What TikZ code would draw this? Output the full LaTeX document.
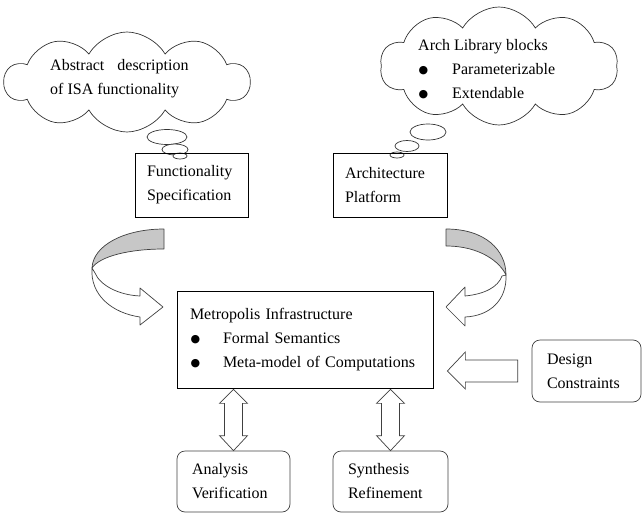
\documentclass[tikz,border=0pt]{standalone}
\usepackage{fontspec}
\setmainfont{Liberation Serif}
\newfontfamily\symfont{DejaVu Sans}
\usetikzlibrary{shapes.symbols,calc}
\newcommand\blt[1]{\makebox[#1][l]{\hspace{0.5pt}\raisebox{0.5pt}{\symfont\fontsize{11}{11}\selectfont ●}}}
\begin{document}
\begin{tikzpicture}[x=1pt,y=-1pt,font=\fontsize{16}{24}\selectfont,
  sqbox/.style={draw,line width=0.7pt,inner xsep=12pt,inner ysep=0pt,align=left},
  rbox/.style={draw=black!75,line width=0.7pt,rounded corners=8pt,inner xsep=15pt,inner ysep=0pt,align=left},
  cloudbox/.style={cloud,draw=black!80,line width=0.7pt,cloud puffs=10,cloud puff arc=120,cloud ignores aspect,inner sep=0pt},
  bubble/.style={draw=black!80,line width=0.7pt,fill=white},
  txt/.style={inner sep=0pt,align=left},
  ribbonback/.style={draw=black!75,line width=0.7pt,fill=black!22,line join=round},
  ribbonfront/.style={draw=black!75,line width=0.7pt,fill=white,line join=round},
  blockarrow/.style={draw=black!75,line width=0.7pt,fill=white,line join=miter}]
\useasboundingbox (0,0) rectangle (642,514);

% clouds
\node[cloudbox,minimum width=245pt,minimum height=100pt] (c1) at (127,82) {};
\node[txt,anchor=west] (c1t) at (50,78.5) {Abstract\hspace{13pt}description\\of ISA functionality};
\node[cloudbox,minimum width=238pt,minimum height=118pt] (c2) at (499,66) {};
\node[txt,anchor=west] (c2t) at (418,69) {Arch Library blocks\\\blt{34pt}Parameterizable\\\blt{34pt}Extendable};

% thought bubbles
\draw[bubble] (167,137) ellipse [x radius=20, y radius=7.5];
\draw[bubble] (175,149.5) ellipse [x radius=13, y radius=5.5];
\draw[bubble] (180,156) ellipse [x radius=7, y radius=3];
\draw[bubble] (428,132) ellipse [x radius=18, y radius=8];
\draw[bubble] (407,146) ellipse [x radius=12, y radius=5.5];
\draw[bubble] (397,155) ellipse [x radius=7, y radius=3];

% boxes
\node[sqbox,text width=89pt,minimum height=64pt] (func) at (191.5,185) {Functionality\\Specification};
\node[sqbox,text width=90pt,minimum height=64pt] (arch) at (390,185) {Architecture\\Platform};
\node[sqbox,inner xsep=13pt,text width=230pt,minimum height=97pt] (meta) at (305,339.5)
  {\mbox{Metropolis Infrastructure}\\\mbox{\blt{33pt}Formal Semantics}\\\mbox{\blt{33pt}Meta-model of Computations}};
\node[rbox,text width=79pt,minimum height=62pt] (des) at (586.5,371) {Design\\Constraints};
\node[rbox,text width=83pt,minimum height=61pt] (ana) at (233.5,481.5) {Analysis\\Verification};
\node[rbox,text width=85pt,minimum height=61pt] (syn) at (390.5,481.5) {Synthesis\\Refinement};

% curved arrows
\draw[ribbonback] (164,229) .. controls (125,229) and (93,245) .. (92,268)
  .. controls (100,256) and (130,249) .. (164,249) -- cycle;
\draw[ribbonfront] (92,268) .. controls (90,295) and (112,313) .. (140,317)
  -- (140,325) -- (163,307) -- (140,288) -- (140,296)
  .. controls (118,295) and (100,285) .. (95,273) -- cycle;
\draw[ribbonback] (446,229) .. controls (485,229) and (506,250) .. (506,275)
  .. controls (500,262) and (480,246) .. (446,246) -- cycle;
\draw[ribbonfront] (506,275) .. controls (507,300) and (490,316) .. (465,317)
  -- (465,326) -- (446,307) -- (465,287) -- (465,296)
  .. controls (485,294) and (498,287) .. (502,276) -- cycle;

% block arrow from design constraints
\draw[blockarrow] let \p1=(meta.east |- des.west), \p2=(des.west) in
  (\x1+14pt,\y1) -- (\x1+32pt,\y1+19pt) -- (\x1+32pt,\y1+11pt) -- (\x2-14pt,\y1+11pt)
  -- (\x2-14pt,\y1-11pt) -- (\x1+32pt,\y1-11pt) -- (\x1+32pt,\y1-18pt) -- cycle;

% double arrows
\foreach \b in {ana,syn}{
\draw[blockarrow] let \p1=($(\b.north |- meta.south)+(0,1)$), \p2=(\b.north) in
  (\x1,\y1) -- (\x1+14pt,\y1-14pt) -- (\x1+9pt,\y1-14pt) -- (\x1+9pt,\y2+15pt)
  -- (\x1+14pt,\y2+15pt) -- (\x1,\y2) -- (\x1-14pt,\y2+15pt) -- (\x1-9pt,\y2+15pt)
  -- (\x1-9pt,\y1-14pt) -- (\x1-14pt,\y1-14pt) -- cycle;
}
\end{tikzpicture}
\end{document}
